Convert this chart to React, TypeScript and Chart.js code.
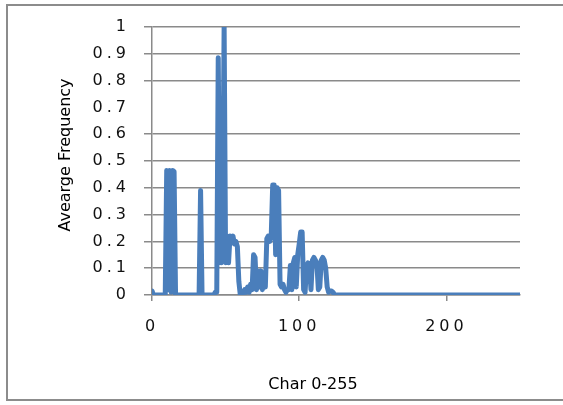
import { useEffect, useRef } from 'react';
import { Chart, registerables } from 'chart.js';

Chart.register(...registerables);

// char codes 0..255 on the x axis
const charCodes = Array.from({ length: 256 }, (_, i) => i);

// average frequency per char
const avgFrequency = [
  0.015, 0, 0, 0, 0, 0, 0, 0, 0, 0, 0.465, 0.02, 0.465, 0.01, 0.465, 0.46,
  0, 0, 0, 0, 0, 0, 0, 0, 0, 0, 0, 0, 0, 0, 0, 0,
  0, 0.39, 0, 0, 0, 0, 0, 0, 0, 0, 0, 0.01, 0.01, 0.885, 0.22, 0.12,
  0.3, 1, 0.12, 0.22, 0.12, 0.22, 0.2, 0.22, 0.19, 0.2, 0.18, 0.05, 0, 0, 0.01, 0.02,
  0.01, 0.03, 0.01, 0.04, 0.02, 0.15, 0.14, 0.02, 0.09, 0.03, 0.09, 0.02, 0.08, 0.03, 0.21, 0.22,
  0.2, 0.22, 0.41, 0.41, 0.15, 0.4, 0.39, 0.04, 0.03, 0.04, 0.02, 0.01, 0.02, 0.02, 0.11, 0.02,
  0.12, 0.14, 0.03, 0.15, 0.19, 0.235, 0.235, 0.02, 0.01, 0.11, 0.12, 0.11, 0.02, 0.13, 0.14, 0.13,
  0.12, 0.02, 0.03, 0.13, 0.14, 0.13, 0.1, 0.03, 0.01, 0.015, 0.015, 0.01, 0, 0, 0, 0,
  0, 0, 0, 0, 0, 0, 0, 0, 0, 0, 0, 0, 0, 0, 0, 0,
  0, 0, 0, 0, 0, 0, 0, 0, 0, 0, 0, 0, 0, 0, 0, 0,
  0, 0, 0, 0, 0, 0, 0, 0, 0, 0, 0, 0, 0, 0, 0, 0,
  0, 0, 0, 0, 0, 0, 0, 0, 0, 0, 0, 0, 0, 0, 0, 0,
  0, 0, 0, 0, 0, 0, 0, 0, 0, 0, 0, 0, 0, 0, 0, 0,
  0, 0, 0, 0, 0, 0, 0, 0, 0, 0, 0, 0, 0, 0, 0, 0,
  0, 0, 0, 0, 0, 0, 0, 0, 0, 0, 0, 0, 0, 0, 0, 0,
  0, 0, 0, 0, 0, 0, 0, 0, 0, 0, 0, 0, 0, 0, 0, 0
];

const xTickValues = [0, 100, 200];
const yTickValues = [0, 0.1, 0.2, 0.3, 0.4, 0.5, 0.6, 0.7, 0.8, 0.9, 1];
const missingGridLine = 0.7; // the original has no line at 0.7

const xTitle = 'Char 0-255';
const yTitle = 'Avearge Frequency';

const GRID = '#8a8a8a';
const LINE = '#4a7ebb';
const TICK_FONT = { family: "'DejaVu Sans'", size: 16 };

// spaced tick labels like the old Excel export, titles drawn by hand
const excelText = {
  id: 'excelText',
  beforeDraw(chart: Chart) {
    (chart.ctx as any).letterSpacing = '4px';
  },
  afterDraw(chart: Chart) {
    const { ctx, chartArea } = chart;
    ctx.save();
    (ctx as any).letterSpacing = '0px';
    ctx.fillStyle = '#000';
    ctx.font = "16px 'DejaVu Sans'";
    ctx.textAlign = 'center';
    ctx.textBaseline = 'middle';
    ctx.fillText(xTitle, chartArea.left + 161, 385);
    ctx.translate(66, (chartArea.top + chartArea.bottom) / 2 - 6);
    ctx.rotate(-Math.PI / 2);
    ctx.fillText(yTitle, 0, 0);
    ctx.restore();
    (ctx as any).letterSpacing = '0px';
  }
};

export default function App() {
  const canvasRef = useRef<HTMLCanvasElement | null>(null);
  const chartRef = useRef<Chart<'line'> | null>(null);

  useEffect(() => {
    if (!canvasRef.current) return;
    if (chartRef.current) chartRef.current.destroy();

    chartRef.current = new Chart(canvasRef.current, {
      type: 'line',
      data: {
        labels: charCodes,
        datasets: [
          {
            label: 'Avearge Frequency',
            data: avgFrequency,
            borderColor: LINE,
            borderWidth: 5,
            borderJoinStyle: 'round',
            borderCapStyle: 'round',
            pointRadius: 0,
            tension: 0,
            fill: false
          }
        ]
      },
      options: {
        animation: false,
        responsive: true,
        maintainAspectRatio: false,
        layout: { padding: { left: 0, top: 27, right: 43, bottom: 0 } },
        scales: {
          x: {
            type: 'linear',
            min: 0,
            max: 250,
            afterFit: (s) => {
              s.height = 110;
            },
            afterBuildTicks: (s) => {
              s.ticks = xTickValues.map((value) => ({ value }));
            },
            grid: { drawOnChartArea: false, drawTicks: true, tickLength: 6, color: GRID, lineWidth: 1.5 },
            border: { display: true, color: GRID, width: 1.5 },
            ticks: { font: TICK_FONT, color: '#111', padding: 16, maxRotation: 0 }
          },
          y: {
            min: 0,
            max: 1,
            afterFit: (s) => {
              s.width = 152;
            },
            afterBuildTicks: (s) => {
              s.ticks = yTickValues.map((value) => ({ value }));
            },
            grid: {
              drawTicks: true,
              tickLength: 8,
              lineWidth: 1.5,
              color: (c) => (c.tick && Math.abs(c.tick.value - missingGridLine) < 1e-9 ? 'rgba(0,0,0,0)' : GRID)
            },
            border: { display: true, color: GRID, width: 1.5 },
            ticks: {
              font: TICK_FONT,
              color: '#111',
              padding: 14,
              callback: (v) => String(Math.round(Number(v) * 10) / 10)
            }
          }
        },
        plugins: {
          legend: { display: false },
          tooltip: { enabled: false }
        }
      },
      plugins: [excelText]
    });

    return () => {
      if (chartRef.current) {
        chartRef.current.destroy();
        chartRef.current = null;
      }
    };
  }, []);

  return (
    <div style={{ position: 'fixed', left: 0, top: 0, width: 563, height: 405, background: '#fff', overflow: 'hidden' }}>
      <div
        style={{
          position: 'absolute',
          left: 6,
          top: 4,
          width: 620,
          height: 397,
          border: '2px solid #8c8c8c',
          boxSizing: 'border-box'
        }}
      />
      <div style={{ position: 'absolute', left: 0, top: 0, width: 563, height: 405 }}>
        <canvas ref={canvasRef} aria-label="Average frequency by char" />
      </div>
    </div>
  );
}
